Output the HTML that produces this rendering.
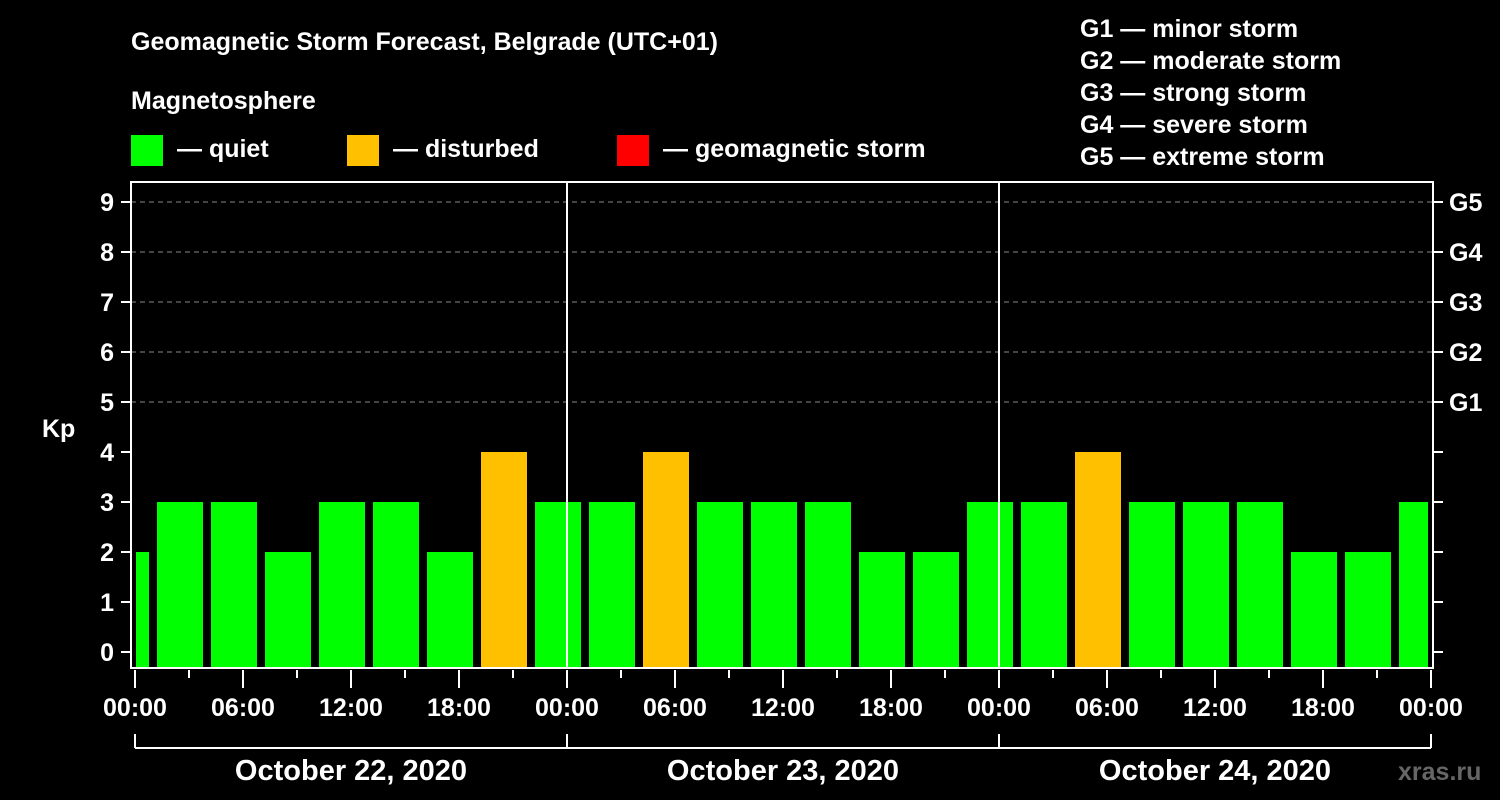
<!DOCTYPE html>
<html><head><meta charset="utf-8"><style>
body{margin:0;background:#000;width:1500px;height:800px;overflow:hidden}
svg{display:block}
text{font-family:"Liberation Sans",Arial,sans-serif;font-weight:bold;fill:#fff}
</style></head><body>
<svg id="c" width="1500" height="800">
<text x="131" y="50" font-size="25">Geomagnetic Storm Forecast, Belgrade (UTC+01)</text>
<text x="131" y="109" font-size="25">Magnetosphere</text>
<g><rect x="131" y="135" width="32" height="31" fill="#00ff00"/><text x="177" y="157" font-size="25">— quiet</text></g>
<g><rect x="347" y="135" width="32" height="31" fill="#ffc000"/><text x="393" y="157" font-size="25">— disturbed</text></g>
<g><rect x="617" y="135" width="32" height="31" fill="#ff0000"/><text x="663" y="157" font-size="25">— geomagnetic storm</text></g>
<g font-size="25">
<text x="1080" y="37" font-size="25">G1 — minor storm</text>
<text x="1080" y="69" font-size="25">G2 — moderate storm</text>
<text x="1080" y="101" font-size="25">G3 — strong storm</text>
<text x="1080" y="133" font-size="25">G4 — severe storm</text>
<text x="1080" y="165" font-size="25">G5 — extreme storm</text>
</g>
<text x="42" y="437" font-size="25">Kp</text>
<text x="1398" y="780" font-size="25" style="fill:#666">xras.ru</text>
<g id="plot"></g>
</svg>
<script>
const kpValues=[2,3,3,2,3,3,2,4,3,3,4,3,3,3,2,2,3,3,4,3,3,3,2,2,3];
const yTicks=[0,1,2,3,4,5,6,7,8,9];
const gLabels=["G1","G2","G3","G4","G5"];
const xTickLabels=["00:00","06:00","12:00","18:00","00:00","06:00","12:00","18:00","00:00","06:00","12:00","18:00","00:00"];
const dayLabels=["October 22, 2020","October 23, 2020","October 24, 2020"];
const NS="http://www.w3.org/2000/svg";
const g=document.getElementById('plot');
const L=131,R=1433,T=182,B=668,X0=135,X1=1431;
const hx=h=>X0+h*(X1-X0)/72; // hours since Oct 22 00:00 local
const ky=v=>652-v*50;
function el(t,a,p){const e=document.createElementNS(NS,t);for(const k in a)e.setAttribute(k,a[k]);(p||g).appendChild(e);return e;}
// grid
yTicks.forEach(v=>{
 if(v>=5){const l=el('line',{x1:L,x2:R,y1:ky(v),y2:ky(v),stroke:'#888','stroke-dasharray':'5,4','stroke-width':1});
 }
 el('line',{x1:121,x2:L,y1:ky(v),y2:ky(v),stroke:'#fff','stroke-width':2});
 el('line',{x1:R,x2:1443,y1:ky(v),y2:ky(v),stroke:'#fff','stroke-width':2});
 const t=el('text',{x:114,y:ky(v)+9,'font-size':25,'text-anchor':'end'});t.textContent=v;
 
});
gLabels.forEach((s,i)=>{const t=el('text',{x:1449,y:ky(5+i)+9,'font-size':25});t.textContent=s;
 });
// bars
kpValues.forEach((v,i)=>{
 const h0=-2+i*3;
 let x0=hx(h0)+4,x1=hx(h0+3)-4;
 x0=Math.max(x0,136);x1=Math.min(x1,1428);
 const r=el('rect',{x:x0,y:ky(v),width:x1-x0,height:B-ky(v),fill:v>=5?'#ff0000':(v>=4?'#ffc000':'#00ff00')});
 
});
// day separators
[24,48].forEach(h=>el('line',{x1:hx(h),x2:hx(h),y1:T,y2:B,stroke:'#fff','stroke-width':2}));
// frame
const f=el('rect',{x:L,y:T,width:R-L,height:B-T,fill:'none',stroke:'#fff','stroke-width':2});

// x ticks
for(let h=0;h<=72;h+=3){const maj=h%6==0;el('line',{x1:hx(h),x2:hx(h),y1:B+2,y2:maj?688:678,stroke:'#fff','stroke-width':2});}
xTickLabels.forEach((s,i)=>{const t=el('text',{x:hx(i*6),y:716,'font-size':25,'text-anchor':'middle'});t.textContent=s;
 });
// day bracket
el('line',{x1:hx(0),x2:hx(72),y1:748,y2:748,stroke:'#fff','stroke-width':2});
[0,24,48,72].forEach(h=>el('line',{x1:hx(h),x2:hx(h),y1:734,y2:748,stroke:'#fff','stroke-width':2}));
dayLabels.forEach((s,i)=>{const t=el('text',{x:hx(i*24+12),y:780,'font-size':29,'text-anchor':'middle'});t.textContent=s;
 });
</script>
</body></html>
